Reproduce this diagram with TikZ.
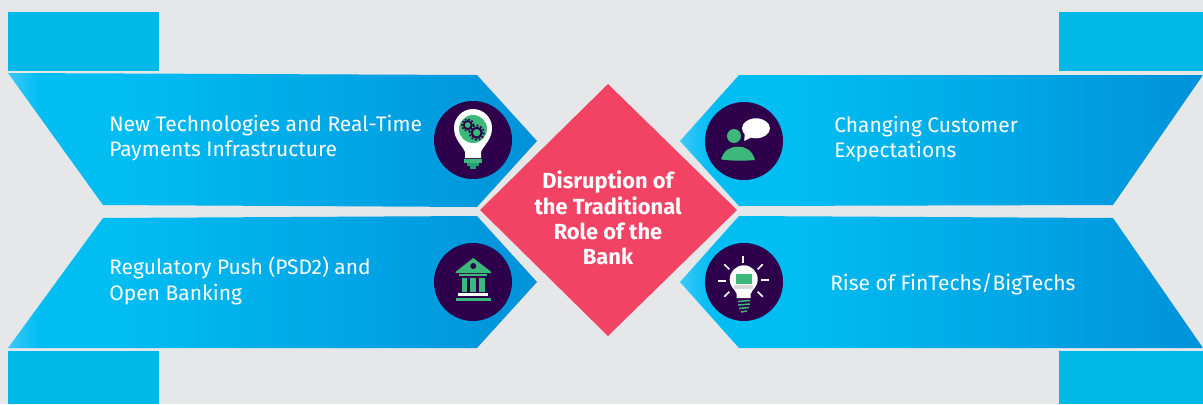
\documentclass[tikz,border=0pt]{standalone}
\usepackage{fontspec}
\setmainfont{Fira Sans}
\usetikzlibrary{calc}
\definecolor{bgc}{HTML}{E6E7E9}
\definecolor{boxc}{HTML}{00B9E9}
\definecolor{dia}{HTML}{F24364}
\definecolor{ink}{HTML}{2E004B}
\definecolor{leaf}{HTML}{3CB97A}
\definecolor{leafd}{HTML}{2C9C73}
\definecolor{lc}{HTML}{3AC8FA}
\definecolor{mc}{HTML}{00BDF2}
\definecolor{rc}{HTML}{0092DA}
\pgfdeclarehorizontalshading{bandL}{100bp}{color(0bp)=(lc); color(25bp)=(lc); color(28bp)=(mc); color(36bp)=(mc); color(75bp)=(rc); color(100bp)=(rc)}
\tikzset{
  x=0.75pt,y=-0.75pt,
  band/.style={shading=bandL,draw=none},
  corner/.style={fill=boxc,draw=none},
  disc/.style={circle,fill=ink,draw=none,minimum size=58.5pt,inner sep=0pt},
  label/.style={text=white,font=\fontsize{15.75}{19}\selectfont,align=left,anchor=west,inner sep=0pt},
  title/.style={text=white,font=\fontsize{16.4}{19}\bfseries\selectfont,align=center,inner sep=0pt},
  ray/.style={draw=white,line width=1.3pt},
  screw/.style={draw=leaf,line width=1.1pt}
}
\begin{document}
\begin{tikzpicture}
\useasboundingbox (0,0) rectangle (1203,404);
\fill[bgc] (0,0) rectangle (1203,404);
% corner blocks
\path[corner] (8,12) rectangle (159,71);
\path[corner] (8,351) rectangle (159,404);
\path[corner] (1059,12) rectangle (1203,71);
\path[corner] (1059,351) rectangle (1203,404);
% bands
\shade[band] (8,73) -- (477,75) -- (537,141) -- (477,207) -- (103,205) -- cycle;
\shade[band] (8,348) -- (477,348) -- (537,282) -- (477,216) -- (103,218) -- cycle;
\shade[band] (1203,75) -- (739,75) -- (680,141) -- (739,206) -- (1113,205) -- cycle;
\shade[band] (1203,348) -- (739,348) -- (680,282) -- (739,216) -- (1113,218) -- cycle;
% diamond
\fill[dia] (608,84) -- (737,210) -- (608,336) -- (480,210) -- cycle;
\node[title] (core) at (608,218) {Disruption of\\the Traditional\\Role of the\\Bank};
% labels
\node[label] (t1) at (109,138) {New Technologies and Real-Time\\Payments Infrastructure};
\node[label] (t2) at (109,281) {Regulatory Push (PSD2) and\\Open Banking};
\node[label] (t3) at (834,139) {Changing Customer\\Expectations};
\node[label] (t4) at (830,284) {Rise of FinTechs/BigTechs};
% discs
\node[disc] (d1) at (473,140) {};
\node[disc] (d2) at (473,282) {};
\node[disc] (d3) at (744,141) {};
\node[disc] (d4) at (744,282) {};
% icon 1: bulb and gears
\fill[white] (465,158) -- (465,152) .. controls (463,146) and (454,140) .. (454,128) arc[start angle=180,end angle=360,radius=19] .. controls (492,140) and (483,146) .. (481,152) -- (481,158) -- cycle;
\fill[leaf] (473,129) circle[radius=14];
\fill[leaf] (464,159) rectangle (482,163);
\fill[leafd] (467,163) rectangle (479,166);
\fill[leafd] (470,166) rectangle (476,169);
\draw[ink,line width=1.4pt] (467.7,125) circle[radius=4];
\draw[ink,line width=1.1pt,dash pattern=on 1.3pt off 1.3pt] (467.7,125) circle[radius=5.8];
\draw[ink,line width=1.6pt] (476.7,132.7) circle[radius=5];
\draw[ink,line width=1.2pt,dash pattern=on 1.4pt off 1.4pt] (476.7,132.7) circle[radius=7.2];
% icon 2: bank
\fill[leaf] (473.3,258) -- (491,271.7) -- (491,273) -- (455.7,273) -- (455.7,271.7) -- cycle;
\fill[ink] (473.3,266) circle[radius=3];
\fill[leaf] (459.3,274) rectangle (487.3,276);
\fill[leaf] (462.3,277.7) rectangle (467.3,292);
\fill[leaf] (470,277.7) rectangle (476,292);
\fill[leaf] (479.3,277.7) rectangle (485,292);
\fill[white] (458.3,293.3) rectangle (488.3,296);
\fill[leaf] (455.7,297.7) rectangle (491,301);
% icon 3: person and bubble
\fill[white] (756,128.3) ellipse[x radius=14,y radius=10];
\fill[white] (744.3,141) -- (745,128) -- (752,137) -- cycle;
\fill[leaf] (734,136) circle[radius=7];
\fill[leaf] (721,159.3) .. controls (724,150) and (730,146.7) .. (738,146.7) .. controls (746,146.7) and (752,150) .. (755,160) .. controls (745,161) and (730,161) .. (721,159.3) -- cycle;
% icon 4: bulb, laptop, rays
\fill[white] (736.7,298) -- (736.7,294) .. controls (735,289) and (729.7,287) .. (729.7,279.3) arc[start angle=180,end angle=360,radius=14] .. controls (757.7,287) and (752.4,289) .. (750.7,294) -- (750.7,298) -- cycle;
\fill[leaf] (736,274) rectangle (751.7,284.3);
\fill[black!15] (734,285) rectangle (753,289.3);
\draw[screw] (738,301.5) -- (750,300.5);
\draw[screw] (738,305) -- (750,304);
\draw[screw] (739,308.5) -- (749,307.5);
\draw[screw] (741,312) -- (747,311);
\draw[ray] (743.3,256) -- (743.3,263.3);
\draw[ray] (718.3,280.7) -- (725.7,280.7);
\draw[ray] (761,279.7) -- (768.7,279.7);
\draw[ray] (724.3,264.3) -- (729.3,269.3);
\draw[ray] (762.7,264.3) -- (757.7,269.3);
\draw[ray] (724.3,296.7) -- (729.3,291.7);
\draw[ray] (762.7,296.7) -- (757.7,291.7);
\end{tikzpicture}
\end{document}
